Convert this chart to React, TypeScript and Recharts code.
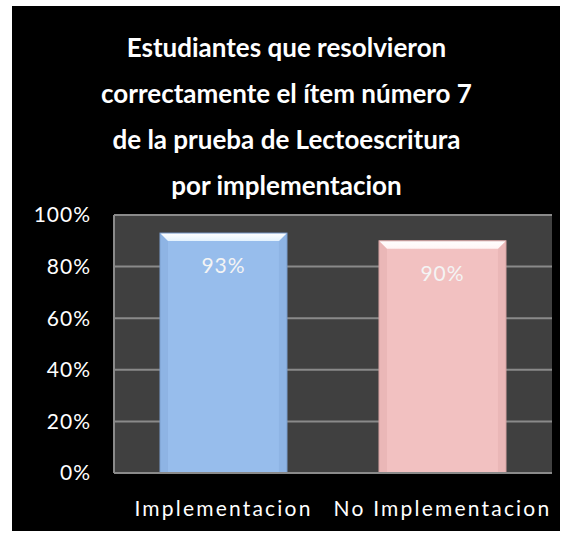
import { BarChart, Bar, XAxis, YAxis, CartesianGrid, LabelList, Cell } from 'recharts';

const categories = ['Implementacion', 'No Implementacion'];
const values = [0.93, 0.9];
const yTicks = [0, 0.2, 0.4, 0.6, 0.8, 1];
const titleLines = [
  'Estudiantes que resolvieron',
  'correctamente el ítem número 7',
  'de la prueba de Lectoescritura',
  'por implementacion',
];

const data = categories.map((name, i) => ({ name, value: values[i] }));

const palette = [
  { body: '#97BDEC', light: '#E4F2FD', dark: '#7C9FCF' },
  { body: '#F2C1C1', light: '#FFF4F4', dark: '#D6A3A3' },
];

const FONT = 'Lato, "Open Sans", sans-serif';

function BevelBar(props: any) {
  const { x, y, width, height, index } = props;
  const c = palette[index % palette.length];
  const b = 8;
  const gid = `bev${index}`;
  return (
    <g>
      <defs>
        <linearGradient id={gid} x1="0" y1="0" x2="0" y2="1">
          <stop offset="0%" stopColor="#ffffff" />
          <stop offset="100%" stopColor={c.light} />
        </linearGradient>
      </defs>
      <rect x={x} y={y} width={width} height={height} fill={c.body} />
      <polygon points={`${x},${y} ${x + b},${y + b} ${x + b},${y + height} ${x},${y + height}`} fill={c.dark} opacity={0.3} />
      <polygon points={`${x + width},${y} ${x + width - b},${y + b} ${x + width - b},${y + height} ${x + width},${y + height}`} fill={c.dark} opacity={0.3} />
      <polygon points={`${x},${y} ${x + width},${y} ${x + width - b},${y + b} ${x + b},${y + b}`} fill={`url(#${gid})`} />
      <rect x={x} y={y} width={width} height={height} fill="none" stroke={c.dark} strokeWidth={1} />
    </g>
  );
}

export default function App() {
  return (
    <div style={{ position: 'absolute', left: 0, top: 0, width: 573, height: 537, background: '#fff' }}>
      <div style={{ position: 'absolute', left: 12, top: 6, width: 548, height: 525, background: '#000' }} />
      <div
        style={{
          position: 'absolute',
          left: 0,
          top: 24,
          width: 573,
          textAlign: 'center',
          color: '#fff',
          fontFamily: FONT,
          fontWeight: 700,
          fontSize: 26,
          lineHeight: '46px',
        }}
      >
        {titleLines.map((t) => (
          <div key={t}>{t}</div>
        ))}
      </div>
      <div style={{ position: 'absolute', left: 0, top: 0 }}>
        <BarChart width={573} height={537} data={data} margin={{ top: 215, right: 21, left: 44, bottom: 14 }} barCategoryGap="21%">
          <CartesianGrid vertical={false} fill="#404040" stroke="#8a8a8a" strokeWidth={2} />
          <XAxis
            dataKey="name"
            height={50}
            axisLine={{ stroke: '#8a8a8a', strokeWidth: 2 }}
            tickLine={false}
            tick={{ fill: '#fff', fontSize: 21, fontFamily: FONT, letterSpacing: 2.2 }}
            tickMargin={22}
          />
          <YAxis
            width={70}
            domain={[0, 1]}
            ticks={yTicks}
            axisLine={{ stroke: '#8a8a8a', strokeWidth: 2 }}
            tickLine={false}
            tickFormatter={(v) => `${Math.round(v * 100)}%`}
            tick={{ fill: '#fff', fontSize: 21, fontFamily: FONT, letterSpacing: 1 }}
            tickMargin={17}
          />
          <Bar dataKey="value" isAnimationActive={false} shape={<BevelBar />}>
            {data.map((d, i) => (
              <Cell key={d.name} fill={palette[i].body} />
            ))}
            <LabelList
              dataKey="value"
              position="insideTop"
              offset={25}
              formatter={(v: any) => `${Math.round(v * 100)}%`}
              fill="#f4f4f4"
              style={{ fontSize: 21, fontFamily: FONT, letterSpacing: 1 }}
            />
          </Bar>
        </BarChart>
      </div>
    </div>
  );
}
